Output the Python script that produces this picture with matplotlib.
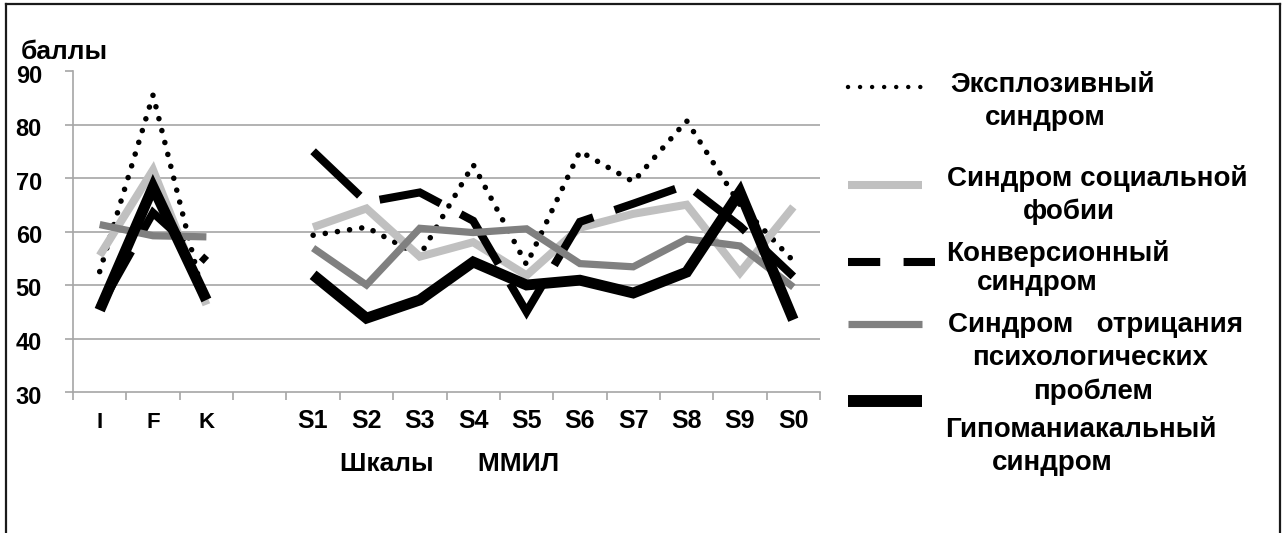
import numpy as np
import matplotlib
matplotlib.use("Agg")
import matplotlib.pyplot as plt
from matplotlib.lines import Line2D
import matplotlib.transforms as mtransforms

plt.rcParams['font.family'] = ['Liberation Sans', 'DejaVu Sans']
plt.rcParams['font.weight'] = 'bold'

# categories (empty slot separates I F K from the clinical scales)
categories = ['I', 'F', 'K', '', 'S1', 'S2', 'S3', 'S4', 'S5', 'S6', 'S7', 'S8', 'S9', 'S0']
nan = np.nan

explosive = [52.5, 85.5, 45.5, nan, 59.3, 60.8, 55.5, 72.5, 53.8, 75.0, 69.3, 80.7, 65.0, 54.5]
social_phobia = [55.5, 71.5, 46.3, nan, 60.8, 64.3, 55.3, 58.0, 51.8, 60.7, 63.3, 65.0, 52.3, 64.6]
conversion = [45.8, 63.5, 54.5, nan, 75.0, 65.5, 67.3, 62.0, 45.0, 61.8, 65.2, 68.7, 61.0, 51.6]
denial = [61.3, 59.2, 59.0, nan, 56.9, 50.0, 60.6, 59.8, 60.5, 54.0, 53.4, 58.6, 57.3, 49.6]
hypomanic = [45.3, 68.3, 47.2, nan, 51.9, 43.8, 47.2, 54.3, 50.0, 50.9, 48.5, 52.4, 67.4, 43.5]

yticks = [30, 40, 50, 60, 70, 80, 90]

W, H = 1284, 533
fig = plt.figure(figsize=(W / 100, H / 100), dpi=100)
fig.patch.set_facecolor('white')

def fx(px):
    return px / W

def fy(py):
    return 1 - py / H

ax = fig.add_axes([fx(73), fy(392), fx(820) - fx(73), fy(71) - fy(392)])
x = np.arange(len(categories))

# series styles
dotted = dict(color='black', lw=4.0, linestyle=(0, (0.01, 2.2)), dash_capstyle='round')
light = dict(color='#c0c0c0', lw=5.8, solid_capstyle='butt', solid_joinstyle='miter')
dashed = dict(color='black', lw=5.8, linestyle=(0, (8, 2.8)), dash_capstyle='butt', dash_joinstyle='miter')
mid = dict(color='#808080', lw=5.2, solid_capstyle='butt', solid_joinstyle='miter')
thick = dict(color='black', lw=7.8, solid_capstyle='butt', solid_joinstyle='miter')

ax.plot(x, explosive, zorder=3, **dotted)
ax.plot(x, social_phobia, zorder=4, **light)
ax.plot(x, conversion, zorder=5, **dashed)
ax.plot(x, denial, zorder=6, **mid)
ax.plot(x, hypomanic, zorder=7, **thick)

ax.set_xlim(-0.5, len(categories) - 0.5)
ax.set_ylim(30, 90)

# grid (no line at top value)
for v in yticks[1:-1]:
    ax.axhline(v, color='#a6a6a6', lw=1.2, zorder=1)

for s in ['top', 'right']:
    ax.spines[s].set_visible(False)
for s in ['left', 'bottom']:
    ax.spines[s].set_color('#a6a6a6')
    ax.spines[s].set_linewidth(1.2)

ax.set_yticks(yticks)
ax.set_yticklabels([])
ax.tick_params(axis='y', length=6, width=1.2, color='#a6a6a6')
ytrans = mtransforms.blended_transform_factory(ax.transAxes, ax.transData)
yoff = mtransforms.ScaledTranslation(0, -5 / 100, fig.dpi_scale_trans)
for v in yticks:
    ax.text((42 - 73) / 747, v, str(v), transform=ytrans + yoff, ha='right', va='center',
            fontsize=17, fontweight='bold')

ax.set_xticks(np.arange(len(categories) + 1) - 0.5)
ax.set_xticklabels([])
ax.tick_params(axis='x', length=6, width=1.2, color='#a6a6a6', direction='out')

trans = mtransforms.blended_transform_factory(ax.transData, ax.transAxes)
for i, c in enumerate(categories):
    size = 18 if c.startswith('S') else 16
    ax.text(i, (392 - 428) / 321, c, transform=trans, ha='center', va='baseline',
            fontsize=size, fontweight='bold')

fig.text(fx(450), fy(464), 'Шкалы      ММИЛ', ha='center', va='center', fontsize=19, fontweight='bold')
fig.text(fx(21), fy(52), 'баллы', ha='left', va='center', fontsize=19, fontweight='bold')

# legend handles
def handle(y, style, x0=848, x1=922):
    fig.add_artist(Line2D([fx(x0), fx(x1)], [fy(y), fy(y)], transform=fig.transFigure, **style))

handle(87, dict(dotted, lw=3.2, linestyle=(0, (0.01, 2.7))))
handle(185, light)
handle(262, dict(dashed, linestyle=(0, (4, 2.9))), x1=935)
handle(324, mid)
handle(401, dict(thick, lw=8.6))

legend_lines = [
    ('Эксплозивный', 1053, 85),
    ('синдром', 1045, 118),
    ('Синдром социальной', 1097, 178),
    ('фобии', 1069, 212),
    ('Конверсионный', 1058, 253),
    ('синдром', 1037, 283),
    ('Синдром   отрицания', 1096, 325),
    ('психологических', 1090, 358),
    ('проблем', 1093, 392),
    ('Гипоманиакальный', 1081, 430),
    ('синдром', 1052, 463),
]
for txt, px, py in legend_lines:
    fig.text(fx(px), fy(py), txt, ha='center', va='center', fontsize=20, fontweight='bold')

# outer frame (open at the bottom)
frame = dict(color='#1a1a1a', lw=1.6, transform=fig.transFigure)
fig.add_artist(Line2D([fx(6), fx(6)], [0, fy(4)], **frame))
fig.add_artist(Line2D([fx(6), fx(1280)], [fy(4), fy(4)], **frame))
fig.add_artist(Line2D([fx(1280), fx(1280)], [fy(4), 0], **frame))

fig.savefig('out.png', dpi=100)
